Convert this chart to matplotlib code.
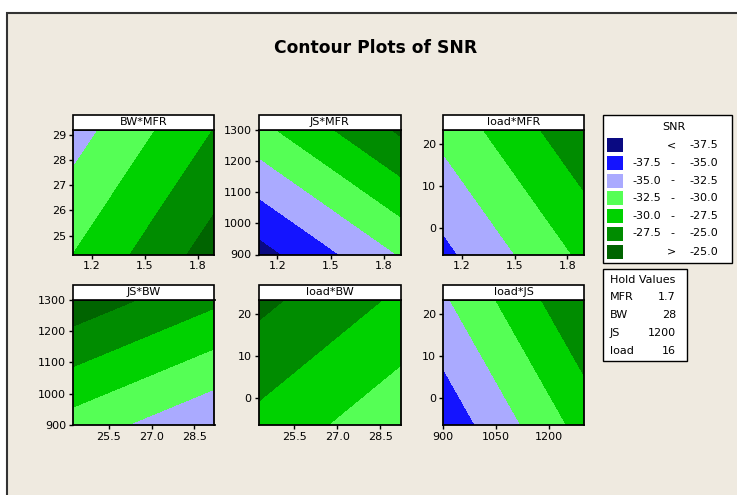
import numpy as np
import matplotlib
matplotlib.use("Agg")
import matplotlib.pyplot as plt
from matplotlib.patches import Rectangle

# ---- data ----
factors = ["MFR", "BW", "JS", "load"]
hold_values = [1.7, 28, 1200, 16]
snr_at_hold = -28.05
slopes = [7.7, -0.73, 0.0193, 0.13]          # change of SNR per unit of each factor
range_lo = [1.093, 24.25, 900, -6.45]
range_hi = [1.895, 29.2, 1300, 23.35]
level_edges = [-37.5, -35.0, -32.5, -30.0, -27.5, -25.0]
level_colors = ["#0A0A82", "#1414FF", "#AAAAFF", "#55FF55", "#00D200", "#008C00", "#006400"]
legend_left = ["", "-37.5", "-35.0", "-32.5", "-30.0", "-27.5", ""]
legend_mid = ["<", "-", "-", "-", "-", "-", ">"]
legend_right = ["-37.5", "-35.0", "-32.5", "-30.0", "-27.5", "-25.0", "-25.0"]
panels = [("BW", "MFR"), ("JS", "MFR"), ("load", "MFR"),
          ("JS", "BW"), ("load", "BW"), ("load", "JS")]
xticks = {"MFR": [1.2, 1.5, 1.8], "BW": [25.5, 27.0, 28.5], "JS": [900, 1050, 1200]}
yticks = {"BW": [25, 26, 27, 28, 29], "JS": [900, 1000, 1100, 1200, 1300], "load": [0, 10, 20]}

W, H = 737, 495
plt.rcParams["font.family"] = ["DejaVu Sans"]
fig = plt.figure(figsize=(W / 100, H / 100), dpi=100)
fig.patch.set_facecolor("white")

def fx(px):
    return px / W

def fy(py):
    return 1 - py / H

FS = 8

# beige frame (drawn beneath everything)
fig.patches.append(Rectangle((fx(6.5), -0.05), 1.1, fy(12.5) + 0.05,
                             transform=fig.transFigure, facecolor="#EFEAE0",
                             edgecolor="#333333", linewidth=1.5, zorder=-10))

fig.text(fx(376), fy(48), "Contour Plots of SNR", ha="center", va="center",
         fontsize=12.3, fontweight="bold", color="black")

def snr(vals):
    out = snr_at_hold
    for v, s, h in zip(vals, slopes, hold_values):
        out = out + s * (v - h)
    return out

col_left = [73, 258.5, 443]
col_right = [214.5, 400.5, 584]
row_top = [130, 300]
row_bottom = [254.5, 425]
title_h = 15.5

levels = [-100] + level_edges + [100]

for i, (yname, xname) in enumerate(panels):
    r, c = divmod(i, 3)
    l, rgt, t, b = col_left[c], col_right[c], row_top[r], row_bottom[r]
    ax = fig.add_axes([fx(l), fy(b), fx(rgt - l), (b - t) / H])
    ax.set_zorder(1)
    xi, yi = factors.index(xname), factors.index(yname)
    xs = np.linspace(range_lo[xi], range_hi[xi], 200)
    ys = np.linspace(range_lo[yi], range_hi[yi], 200)
    X, Y = np.meshgrid(xs, ys)
    vals = [np.full_like(X, hv) for hv in hold_values]
    vals[xi] = X
    vals[yi] = Y
    Z = snr(vals)
    ax.contourf(X, Y, Z, levels=levels, colors=level_colors)
    ax.set_xlim(range_lo[xi], range_hi[xi])
    ax.set_ylim(range_lo[yi], range_hi[yi])
    ax.set_xticks(xticks[xname])
    ax.set_xticklabels([f"{v:g}" if xname == "JS" else f"{v:.1f}" for v in xticks[xname]])
    ax.set_yticks(yticks[yname])
    ax.set_yticklabels([f"{v:g}" for v in yticks[yname]])
    ax.tick_params(direction="out", length=3, width=1, labelsize=FS, pad=2, colors="black")
    for sp in ax.spines.values():
        sp.set_linewidth(1.3)
        sp.set_color("black")
    # panel title strip
    fig.patches.append(Rectangle((fx(l), fy(t)), fx(rgt - l), title_h / H,
                                 transform=fig.transFigure, facecolor="white",
                                 edgecolor="black", linewidth=1.2, zorder=3))
    fig.text(fx((l + rgt) / 2), fy(t - title_h / 2), f"{yname}*{xname}",
             ha="center", va="center", fontsize=FS, zorder=4)

# legend box
fig.patches.append(Rectangle((fx(602.5), fy(262.5)), fx(732 - 602.5), (262.5 - 114.5) / H,
                             transform=fig.transFigure, facecolor="white",
                             edgecolor="black", linewidth=1.0, zorder=3))
fig.text(fx(674), fy(127), "SNR", ha="center", va="center", fontsize=FS, zorder=4)
row_y = [145, 163, 180.5, 198.3, 216, 233.5, 251.5]
for k in range(7):
    yy = row_y[k]
    fig.patches.append(Rectangle((fx(607), fy(yy + 7)), fx(15.5), 14 / H,
                                 transform=fig.transFigure, facecolor=level_colors[k],
                                 edgecolor="none", zorder=4))
    if legend_left[k]:
        fig.text(fx(661), fy(yy), legend_left[k], ha="right", va="center", fontsize=FS, zorder=5)
    fig.text(fx(672), fy(yy), legend_mid[k], ha="center", va="center", fontsize=FS, zorder=5)
    fig.text(fx(718.5), fy(yy), legend_right[k], ha="right", va="center", fontsize=FS, zorder=5)

# hold values box
fig.patches.append(Rectangle((fx(602.5), fy(361)), fx(687 - 602.5), (361 - 268.5) / H,
                             transform=fig.transFigure, facecolor="white",
                             edgecolor="black", linewidth=1.0, zorder=3))
fig.text(fx(610), fy(280), "Hold Values", ha="left", va="center", fontsize=FS, zorder=4)
hold_y = [297.5, 315, 332.7, 350.5]
for name, hv, yy in zip(factors, hold_values, hold_y):
    fig.text(fx(610), fy(yy), name, ha="left", va="center", fontsize=FS, zorder=4)
    fig.text(fx(676), fy(yy), f"{hv:g}", ha="right", va="center", fontsize=FS, zorder=4)

fig.savefig("out.png", dpi=100)
